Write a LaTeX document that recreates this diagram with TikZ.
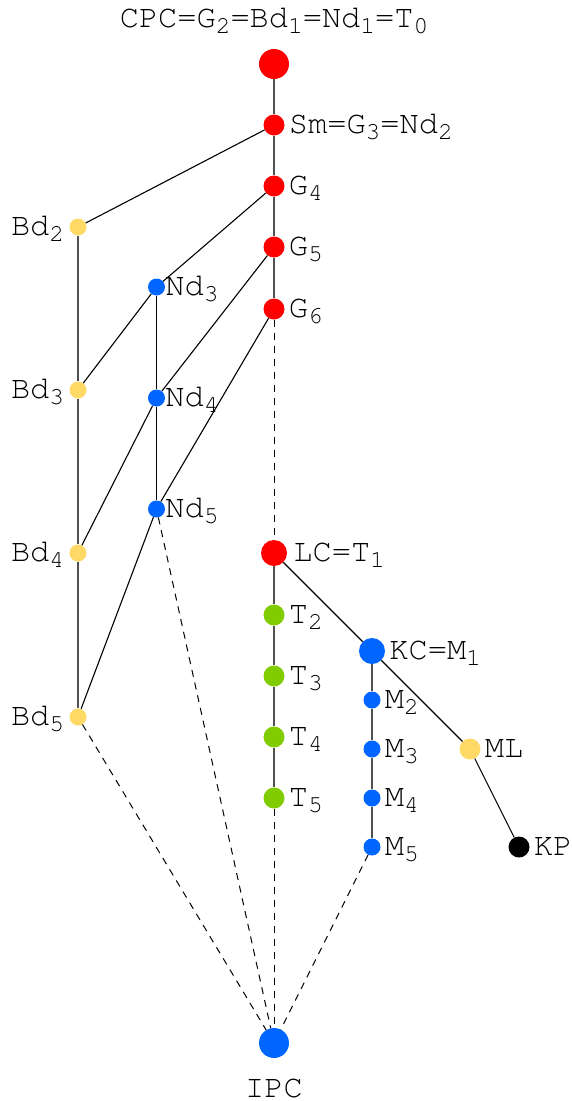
\documentclass[tikz,border=0pt]{standalone}
\usepackage[T1,TU]{fontenc}
\definecolor{cRed}{RGB}{255,0,0}
\definecolor{cYel}{RGB}{255,217,102}
\definecolor{cBlue}{RGB}{0,102,255}
\definecolor{cGreen}{RGB}{128,204,0}
\definecolor{cLine}{RGB}{80,80,80}
% Courier labels with lowered, smaller indices
\newcommand\labfont{\fontencoding{T1}\fontfamily{pcr}\fontsize{32}{35}\selectfont}
\newcommand\sbs[1]{\raisebox{-6pt}{\fontsize{24.5}{25}\selectfont #1}}
\begin{document}
\begin{tikzpicture}[x=1pt,y=-1pt,
  vtx/.style={circle,inner sep=0pt,minimum size=#1,draw=none},
  lbl/.style={font=\labfont,inner sep=0pt,text height=17.5pt,text depth=0pt},
  rl/.style={label={[lbl,label distance=4pt]right:#1}},
  nl/.style={label={[lbl,label distance=0pt]right:#1}},
  ll/.style={label={[lbl,label distance=5pt]left:#1}},
  main/.style={draw=cLine,line width=1.6pt},
  link/.style={draw=black,line width=1.1pt},
  dsh/.style={draw=black,line width=1pt,dash pattern=on 7pt off 6pt}]
\useasboundingbox (0,0) rectangle (571,1101);

% central chain
\node[vtx=30,fill=cRed] (cpc) at (274,64) {};
\node[lbl,anchor=base] (cpcl) at (274,27) {CPC=G\sbs2=Bd\sbs1=Nd\sbs1=T\sbs0};
\node[vtx=21,fill=cRed,rl={Sm=G\sbs3=Nd\sbs2}] (sm) at (274,125) {};
\node[vtx=21,fill=cRed,rl={G\sbs4}] (g4) at (274,186) {};
\node[vtx=21,fill=cRed,rl={G\sbs5}] (g5) at (274,247) {};
\node[vtx=21,fill=cRed,rl={G\sbs6}] (g6) at (274,309) {};
\node[vtx=26,fill=cRed,label={[lbl,label distance=6pt]right:LC=T\sbs1}] (lc) at (274,553) {};
\node[vtx=21,fill=cGreen,rl={T\sbs2}] (t2) at (274,615) {};
\node[vtx=21,fill=cGreen,rl={T\sbs3}] (t3) at (274,676) {};
\node[vtx=21,fill=cGreen,rl={T\sbs4}] (t4) at (274,737) {};
\node[vtx=21,fill=cGreen,rl={T\sbs5}] (t5) at (274,798) {};
\node[vtx=30,fill=cBlue] (ipc) at (274,1043) {};
\node[lbl,anchor=base] (ipcl) at (274,1097) {IPC};

% Bd column
\node[vtx=17,fill=cYel,ll={Bd\sbs2}] (bd2) at (78,227) {};
\node[vtx=17,fill=cYel,ll={Bd\sbs3}] (bd3) at (78,390) {};
\node[vtx=17,fill=cYel,ll={Bd\sbs4}] (bd4) at (78,553) {};
\node[vtx=17,fill=cYel,ll={Bd\sbs5}] (bd5) at (78,717) {};

% Nd column
\node[vtx=17,fill=cBlue,nl={Nd\sbs3}] (nd3) at (156.5,287) {};
\node[vtx=17,fill=cBlue,nl={Nd\sbs4}] (nd4) at (156.5,398) {};
\node[vtx=17,fill=cBlue,nl={Nd\sbs5}] (nd5) at (156.5,509) {};

% KC branch
\node[vtx=26,fill=cBlue,rl={KC=M\sbs1}] (kc) at (372,651) {};
\node[vtx=17,fill=cBlue,rl={M\sbs2}] (m2) at (372,700) {};
\node[vtx=17,fill=cBlue,rl={M\sbs3}] (m3) at (372,749) {};
\node[vtx=17,fill=cBlue,rl={M\sbs4}] (m4) at (372,798) {};
\node[vtx=17,fill=cBlue,rl={M\sbs5}] (m5) at (372,847) {};
\node[vtx=21,fill=cYel,rl={ML}] (ml) at (470,749) {};
\node[vtx=21,fill=black,rl={KP}] (kp) at (519,847) {};

% chains
\draw[main] (cpc) -- (sm) -- (g4) -- (g5) -- (g6);
\draw[main] (lc) -- (t2) -- (t3) -- (t4) -- (t5);
\draw[main] (kc) -- (m2) -- (m3) -- (m4) -- (m5);
\draw[main] (bd2) -- (bd3) -- (bd4) -- (bd5);
\draw[link] (nd3) -- (nd4) -- (nd5);

% cross links
\draw[link] (sm) -- (bd2);
\draw[link] (g4) -- (nd3) -- (bd3);
\draw[link] (g5) -- (nd4) -- (bd4);
\draw[link] (g6) -- (nd5) -- (bd5);
\draw[link] (lc) -- (kc) -- (ml) -- (kp);

% dashed links
\draw[dsh] (g6) -- (lc);
\draw[dsh] (t5) -- (ipc);
\draw[dsh] (bd5) -- (ipc);
\draw[dsh] (nd5) -- (ipc);
\draw[dsh] (m5) -- (ipc);
\end{tikzpicture}
\end{document}
